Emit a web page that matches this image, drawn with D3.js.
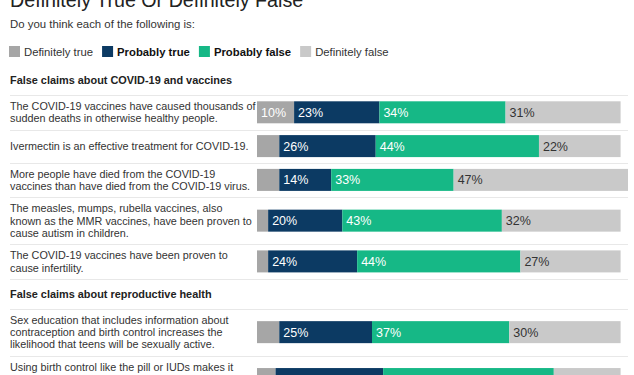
<!DOCTYPE html>
<html>
<head>
<meta charset="utf-8">
<script src="https://cdn.jsdelivr.net/npm/d3@7"></script>
<style>
  body { margin: 0; background: #fff; }
  text { font-family: Arial, "Liberation Sans", sans-serif; }
</style>
</head>
<body>
<div id="chart"></div>
<script>
// answer categories and colours
const answers = ['Definitely true', 'Probably true', 'Probably false', 'Definitely false']
const colors = ['#a6a6a6', '#0c3a63', '#16b886', '#c9c9c9']
const labelColors = ['#fff', '#fff', '#fff', '#333']
const boldLegend = [false, true, true, false]

// sections and statements (line breaks as they appear)
const sections = ['False claims about COVID-19 and vaccines', 'False claims about reproductive health']
const statements = [
  ['The COVID-19 vaccines have caused thousands of', 'sudden deaths in otherwise healthy people.'],
  ['Ivermectin is an effective treatment for COVID-19.'],
  ['More people have died from the COVID-19', 'vaccines than have died from the COVID-19 virus.'],
  ['The measles, mumps, rubella vaccines, also', 'known as the MMR vaccines, have been proven to', 'cause autism in children.'],
  ['The COVID-19 vaccines have been proven to', 'cause infertility.'],
  ['Sex education that includes information about', 'contraception and birth control increases the', 'likelihood that teens will be sexually active.'],
  ['Using birth control like the pill or IUDs makes it', 'harder to get pregnant after someone stops', 'using it.']
]
const sectionOf = [0, 0, 0, 0, 0, 1, 1]

// values (%) per answer
const definitelyTrue = [10, 6, 6, 3, 3, 6, 5]
const probablyTrue = [23, 26, 14, 20, 24, 25, 29]
const probablyFalse = [34, 44, 33, 43, 44, 37, 46]
const definitelyFalse = [31, 22, 47, 32, 27, 30, 18]

const width = 634, height = 375

const svg = d3.select('#chart').append('svg')
  .attr('width', width)
  .attr('height', height)

const x = d3.scaleLinear().domain([0, 100]).range([257, 628])

const data = statements.map((s, i) => ({
  lines: s,
  section: sectionOf[i],
  'Definitely true': definitelyTrue[i],
  'Probably true': probablyTrue[i],
  'Probably false': probablyFalse[i],
  'Definitely false': definitelyFalse[i]
}))
const series = d3.stack().keys(answers)(data)

// title + subtitle
svg.append('text')
  .attr('x', 10).attr('y', 7)
  .attr('font-size', 19.7)
  .attr('fill', '#222')
  .text('Definitely True Or Definitely False')

svg.append('text')
  .attr('x', 10).attr('y', 27.5)
  .attr('font-size', 11.4)
  .attr('fill', '#333')
  .text('Do you think each of the following is:')

// legend
let lx = 9
answers.forEach((a, i) => {
  const g = svg.append('g').attr('transform', `translate(${lx},46)`)
  g.append('rect').attr('width', 11).attr('height', 11).attr('fill', colors[i])
  const t = g.append('text')
    .attr('x', 15).attr('y', 9.5)
    .attr('font-size', 11.3)
    .attr('font-weight', boldLegend[i] ? 'bold' : 'normal')
    .attr('fill', boldLegend[i] ? '#111' : '#333')
    .text(a)
  lx += 15 + t.node().getComputedTextLength() + 9
})

// layout rows
const lineH = 12.3
const barH = 22
let y = 65
let lastSection = -1
const rowY = []
const seps = []
data.forEach((d, i) => {
  if (d.section !== lastSection) {
    svg.append('text')
      .attr('x', 10).attr('y', y + 15 + 4)
      .attr('font-size', 10.9)
      .attr('font-weight', 'bold')
      .attr('fill', '#222')
      .text(sections[d.section])
    y += 30
    seps.push(y)
    lastSection = d.section
  }
  const rowH = Math.max(23, d.lines.length * lineH) + 10
  rowY.push(y + rowH / 2)
  y += rowH
  seps.push(y)
})

svg.append('g').selectAll('line')
  .data(seps)
  .join('line')
  .attr('x1', 10).attr('x2', 628)
  .attr('y1', d => Math.round(d) + 0.5).attr('y2', d => Math.round(d) + 0.5)
  .attr('stroke', '#e8e8e8')
  .attr('stroke-width', 1)

// statement text
const rowText = svg.append('g').selectAll('text')
  .data(data)
  .join('text')
  .attr('font-size', 10.8)
  .attr('fill', '#333')
rowText.each(function (d, i) {
  const n = d.lines.length
  d3.select(this).selectAll('tspan')
    .data(d.lines)
    .join('tspan')
    .attr('x', 10)
    .attr('y', (l, j) => rowY[i] + (j - (n - 1) / 2) * lineH + 4)
    .text(l => l)
})

// bars
const layer = svg.append('g').selectAll('g')
  .data(series)
  .join('g')
  .attr('fill', (d, i) => colors[i])

layer.selectAll('rect')
  .data(d => d)
  .join('rect')
  .attr('x', d => x(d[0]))
  .attr('width', d => x(d[1]) - x(d[0]))
  .attr('y', (d, i) => rowY[i] - barH / 2)
  .attr('height', barH)

// value labels
svg.append('g').selectAll('g')
  .data(series)
  .join('g')
  .each(function (s, k) {
    d3.select(this).selectAll('text')
      .data(s.filter(d => d[1] - d[0] >= 10))
      .join('text')
      .attr('x', d => x(d[0]) + 4)
      .attr('y', d => rowY[data.indexOf(d.data)] + 4.5)
      .attr('font-family', 'Lato, sans-serif')
      .attr('font-size', 12.5)
      .attr('fill', labelColors[k])
      .text(d => (d[1] - d[0]) + '%')
  })
</script>
</body>
</html>
